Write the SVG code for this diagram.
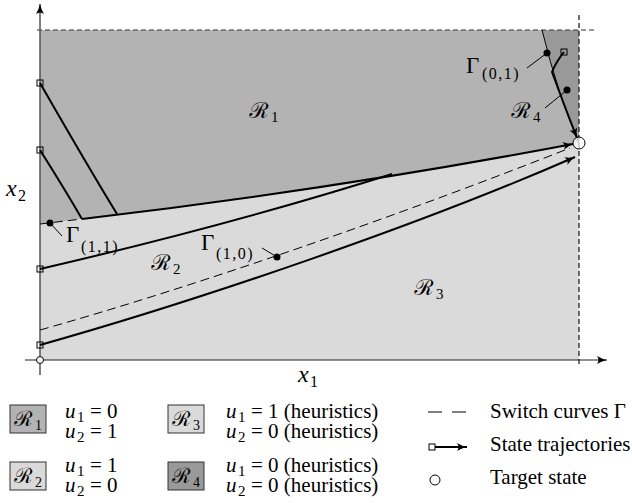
<svg xmlns="http://www.w3.org/2000/svg" width="632" height="503" viewBox="0 0 632 503">
<style>
.t{font-family:"Liberation Serif","Times New Roman",serif;fill:#000}
.cal{font-family:"DejaVu Serif","Noto Sans","Liberation Serif",serif;font-style:italic}
.it{font-style:italic}
.sub{font-size:16px;letter-spacing:1.5px}
.traj{fill:none;stroke:#000;stroke-width:2}
.sw{fill:none;stroke:#000;stroke-width:1;stroke-dasharray:9,5}
.sq{fill:none;stroke:#000;stroke-width:1}
.lead{stroke:#000;stroke-width:1}
.box{stroke:#333;stroke-width:1}
</style>
<defs>
<marker id="arr" markerUnits="userSpaceOnUse" markerWidth="12" markerHeight="10" refX="11" refY="5" orient="auto">
<path d="M1,1 Q6,4 11,5 Q6,6 1,9 Q4,5 1,1 z" fill="#000"/>
</marker>
</defs>
<g id="regions">
<path id="R1" d="M40,30 L542,30 Q558,95 579,143 Q330,190 82,219 L40,224 z" fill="#b3b3b3"/>
<path id="R4" d="M542,30 L579,30 L579,143 Q558,95 542,30 z" fill="#999999"/>
<path id="R23" d="M40,224 L82,219 Q330,190 579,143 L579,360 L40,360 z" fill="#dadada"/>
</g>
<g id="axes">
<line x1="37" y1="30" x2="595" y2="30" stroke="#333" stroke-width="1" stroke-dasharray="5,3"/>
<line x1="579" y1="15" x2="579" y2="366" stroke="#111" stroke-width="1.2" stroke-dasharray="5,3"/>
<line x1="40" y1="375" x2="40" y2="4" stroke="#555" stroke-width="1.5" marker-end="url(#arr)"/>
<line x1="25" y1="360" x2="607" y2="360" stroke="#222" stroke-width="1.2" marker-end="url(#arr)"/>
<circle cx="40" cy="360" r="3.5" fill="#fff" stroke="#000" stroke-width="1"/>
</g>
<g id="connectors">
<path class="sw" d="M40,224 L82,219"/>
<path class="sw" d="M40,330 C200,285 400,215 570,148"/>
<path d="M542,30 Q558,95 579,143" fill="none" stroke="#000" stroke-width="1"/>
<path class="traj" d="M40,83 Q90,170 117,214"/>
<path class="traj" d="M40,150 Q64,188 82,219"/>
<path class="traj" d="M40,269 Q230,225 392,174"/>
<path class="traj" d="M82,219 Q330,190 573,144" marker-end="url(#arr)"/>
<path class="traj" d="M40,345 C200,300 420,225 575,157" marker-end="url(#arr)"/>
<path class="traj" d="M564,52 Q556,62 552,72 Q564,105 577,138" marker-end="url(#arr)"/>
<rect class="sq" x="37" y="80" width="6" height="6"/>
<rect class="sq" x="37" y="147" width="6" height="6"/>
<rect class="sq" x="37" y="266" width="6" height="6"/>
<rect class="sq" x="37" y="342" width="6" height="6"/>
<rect class="sq" x="561" y="49" width="6" height="6"/>
<circle cx="579" cy="143" r="6" fill="#fff" fill-opacity="0.7" stroke="#000" stroke-width="1"/>
</g>
<g id="gamma11">
<circle cx="50" cy="223" r="3.5" fill="#000"/>
<line class="lead" x1="50" y1="223" x2="62" y2="236"/>
<text class="t" x="66" y="242" font-size="23">Γ<tspan class="sub" x="81" y="252">(1,1)</tspan></text>
</g>
<g id="gamma10">
<circle cx="277" cy="257" r="3.5" fill="#000"/>
<line class="lead" x1="277" y1="257" x2="262" y2="248"/>
<text class="t" x="201" y="250" font-size="23">Γ<tspan class="sub" x="216" y="259">(1,0)</tspan></text>
</g>
<g id="gamma01">
<circle cx="547" cy="53" r="3.5" fill="#000"/>
<line class="lead" x1="547" y1="53" x2="527" y2="68"/>
<text class="t" x="466" y="73" font-size="23">Γ<tspan class="sub" x="482" y="79">(0,1)</tspan></text>
</g>
<g id="r4label">
<circle cx="567" cy="90" r="3.5" fill="#000"/>
<line class="lead" x1="567" y1="90" x2="545" y2="108"/>
<text class="t" x="511" y="118" font-size="22"><tspan class="cal">ℛ</tspan><tspan x="533" y="122" font-size="15">4</tspan></text>
</g>
<g id="labels">
<text class="t" x="249" y="118" font-size="22"><tspan class="cal">ℛ</tspan><tspan x="271" y="122" font-size="15">1</tspan></text>
<text class="t" x="151" y="270" font-size="22"><tspan class="cal">ℛ</tspan><tspan x="173" y="274" font-size="15">2</tspan></text>
<text class="t" x="414" y="295" font-size="22"><tspan class="cal">ℛ</tspan><tspan x="436" y="299" font-size="15">3</tspan></text>
<text class="t it" x="6" y="196" font-size="24">x<tspan x="18" y="201" font-size="16" font-style="normal">2</tspan></text>
<text class="t it" x="298" y="382" font-size="24">x<tspan x="310" y="387" font-size="16" font-style="normal">1</tspan></text>
</g>
<g id="legend">
<rect class="box" x="10" y="405" width="36" height="28" fill="#b3b3b3"/>
<text class="t" x="14" y="426" font-size="21"><tspan class="cal">ℛ</tspan><tspan x="35" y="430" font-size="14">1</tspan></text>
<rect class="box" x="10" y="462" width="36" height="28" fill="#dadada"/>
<text class="t" x="14" y="483" font-size="21"><tspan class="cal">ℛ</tspan><tspan x="35" y="487" font-size="14">2</tspan></text>
<rect class="box" x="168" y="405" width="36" height="28" fill="#dadada"/>
<text class="t" x="172" y="426" font-size="21"><tspan class="cal">ℛ</tspan><tspan x="193" y="430" font-size="14">3</tspan></text>
<rect class="box" x="168" y="462" width="36" height="28" fill="#999999"/>
<text class="t" x="172" y="483" font-size="21"><tspan class="cal">ℛ</tspan><tspan x="193" y="487" font-size="14">4</tspan></text>

<text class="t" font-size="21"><tspan class="it" x="65" y="418">u</tspan><tspan x="77" y="422" font-size="15">1</tspan><tspan x="90" y="418">= 0</tspan></text>
<text class="t" font-size="21"><tspan class="it" x="65" y="438">u</tspan><tspan x="77" y="442" font-size="15">2</tspan><tspan x="90" y="438">= 1</tspan></text>
<text class="t" font-size="21"><tspan class="it" x="65" y="472">u</tspan><tspan x="77" y="476" font-size="15">1</tspan><tspan x="90" y="472">= 1</tspan></text>
<text class="t" font-size="21"><tspan class="it" x="65" y="492">u</tspan><tspan x="77" y="496" font-size="15">2</tspan><tspan x="90" y="492">= 0</tspan></text>

<text class="t" font-size="21"><tspan class="it" x="226" y="418">u</tspan><tspan x="238" y="422" font-size="15">1</tspan><tspan x="251" y="418">= 1 (heuristics)</tspan></text>
<text class="t" font-size="21"><tspan class="it" x="226" y="438">u</tspan><tspan x="238" y="442" font-size="15">2</tspan><tspan x="251" y="438">= 0 (heuristics)</tspan></text>
<text class="t" font-size="21"><tspan class="it" x="226" y="472">u</tspan><tspan x="238" y="476" font-size="15">1</tspan><tspan x="251" y="472">= 0 (heuristics)</tspan></text>
<text class="t" font-size="21"><tspan class="it" x="226" y="492">u</tspan><tspan x="238" y="496" font-size="15">2</tspan><tspan x="251" y="492">= 0 (heuristics)</tspan></text>

<line x1="428" y1="412" x2="467" y2="412" stroke="#000" stroke-width="1" stroke-dasharray="14,10"/>
<text class="t" x="490" y="418" font-size="21">Switch curves Γ</text>
<line x1="435" y1="447" x2="467" y2="447" stroke="#000" stroke-width="2" marker-end="url(#arr)"/>
<rect class="sq" x="429" y="444" width="6" height="6"/>
<text class="t" x="490" y="451" font-size="21">State trajectories</text>
<circle cx="435" cy="480" r="5" fill="#fff" stroke="#000" stroke-width="1"/>
<text class="t" x="490" y="484" font-size="21">Target state</text>
</g>
</svg>
